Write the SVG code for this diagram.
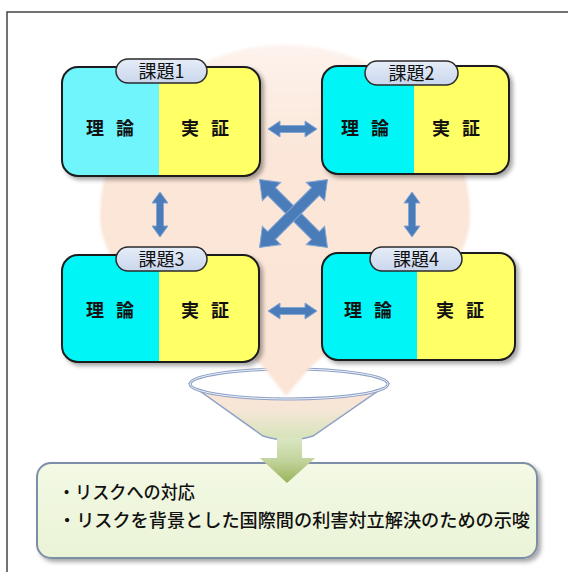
<svg xmlns="http://www.w3.org/2000/svg" width="568" height="572" viewBox="0 0 568 572">
<style>
.box{fill:none;stroke:#1c1c1c;stroke-width:2}
.tab{fill:url(#tabg);stroke:#2a2a2a;stroke-width:1.5}
.tabt{font-family:"Noto Sans CJK JP","Liberation Sans",sans-serif;font-size:18px;fill:#111;text-anchor:middle}
.lbl{font-family:"Noto Sans CJK JP","Liberation Sans",sans-serif;font-size:18px;font-weight:bold;fill:#111;letter-spacing:12px}
.arr{fill:#4a7cba;stroke:#82a5d2;stroke-width:1}
.body{font-family:"Noto Sans CJK JP","Liberation Sans",sans-serif;font-size:18px;font-weight:500;fill:#111}
</style>
<defs>
<filter id="sh" x="-10%" y="-10%" width="130%" height="130%">
<feDropShadow dx="3" dy="3" stdDeviation="2" flood-color="#000" flood-opacity="0.35"/>
</filter>
<filter id="soft" x="-5%" y="-5%" width="110%" height="110%">
<feGaussianBlur stdDeviation="1.5"/>
</filter>
<linearGradient id="pinkg" x1="0" y1="45" x2="0" y2="400" gradientUnits="userSpaceOnUse">
<stop offset="0" stop-color="#fdf3ed"/>
<stop offset="0.3" stop-color="#fbe6d9"/>
<stop offset="1" stop-color="#fbe4d5"/>
</linearGradient>
<linearGradient id="tabg" x1="0" y1="0" x2="0" y2="1">
<stop offset="0" stop-color="#e6edf8"/>
<stop offset="1" stop-color="#c9d6ec"/>
</linearGradient>
<linearGradient id="coneg" x1="0" y1="384" x2="0" y2="440" gradientUnits="userSpaceOnUse">
<stop offset="0" stop-color="#fbe4d6"/>
<stop offset="0.45" stop-color="#f6e6d6"/>
<stop offset="1" stop-color="#d5e3b9"/>
</linearGradient>
<linearGradient id="greeng" x1="0" y1="438" x2="0" y2="483" gradientUnits="userSpaceOnUse">
<stop offset="0" stop-color="#dbe6c4"/>
<stop offset="0.5" stop-color="#c2d49c"/>
<stop offset="1" stop-color="#98b45a"/>
</linearGradient>
<linearGradient id="resg" x1="0" y1="0" x2="0" y2="1">
<stop offset="0" stop-color="#f3f9e4"/>
<stop offset="1" stop-color="#eaf3d6"/>
</linearGradient>
<path id="dh" d="M-24.5,0 L-12.5,-8 L-12.5,-3.5 L12.5,-3.5 L12.5,-8 L24.5,0 L12.5,8 L12.5,3.5 L-12.5,3.5 L-12.5,8 Z"/>
<path id="dd" d="M-48,0 L-31,-13 L-31,-5.5 L31,-5.5 L31,-13 L48,0 L31,13 L31,5.5 L-31,5.5 L-31,13 Z"/>
</defs>

<rect x="0" y="0" width="568" height="572" fill="#ffffff"/>
<rect x="7" y="12" width="600" height="600" fill="none" stroke="#444" stroke-width="1.5"/>

<g id="funnel">
<path d="M190,384 L263,436 Q288,444 313,436 L388,384 Z" fill="url(#coneg)" stroke="#8ea1c6" stroke-width="1.5"/>
<ellipse cx="289" cy="384" rx="99" ry="15" fill="#ffffff" stroke="#8ea1c6" stroke-width="3"/>
<ellipse cx="289" cy="384" rx="99" ry="15" fill="none" stroke="#eef2fa" stroke-width="1"/>
</g>

<g id="background-drop">
<path d="M286,396 L265,369 C232,332 100,300 100,215 A185 170 0 0 1 470 215 C470 300 342 332 309 369 Z" fill="url(#pinkg)" filter="url(#soft)"/>
</g>

<g id="output-arrow">
<path d="M277,438 L302,438 L302,458 L315,458 L287,483 L260,458 L277,458 Z" fill="url(#greeng)"/>
</g>

<g id="connectors">
<use href="#dh" class="arr" transform="translate(292.5,129)"/>
<use href="#dh" class="arr" transform="translate(292.5,311)"/>
<use href="#dh" class="arr" transform="translate(160,214.5) rotate(90) scale(0.92,1)"/>
<use href="#dh" class="arr" transform="translate(412,214.5) rotate(90) scale(0.92,1)"/>
<use href="#dd" class="arr" transform="translate(293.5,213.5) rotate(45)"/>
<use href="#dd" class="arr" transform="translate(293.5,213.5) rotate(-45)"/>
</g>

<g id="task1">
<g filter="url(#sh)">
<rect x="62" y="67" width="198" height="109" rx="16" fill="#ffff66"/>
<path d="M78,67 H159 V176 H78 A16 16 0 0 1 62 160 V83 A16 16 0 0 1 78 67 Z" fill="#70f5fd"/>
<rect class="box" x="62" y="67" width="198" height="109" rx="16"/>
</g>
<rect class="tab" x="116" y="59" width="91" height="24" rx="12"/>
<text class="tabt" x="161.5" y="77.5">課題1</text>
<text class="lbl" x="86" y="135">理論</text>
<text class="lbl" x="181" y="135">実証</text>
</g>

<g id="task2">
<g filter="url(#sh)">
<rect x="322" y="66" width="187" height="108" rx="16" fill="#ffff66"/>
<path d="M338,66 H414 V174 H338 A16 16 0 0 1 322 158 V82 A16 16 0 0 1 338 66 Z" fill="#00f6f6"/>
<rect class="box" x="322" y="66" width="187" height="108" rx="16"/>
</g>
<rect class="tab" x="365" y="61" width="93" height="24" rx="12"/>
<text class="tabt" x="411.5" y="79.5">課題2</text>
<text class="lbl" x="341" y="135">理論</text>
<text class="lbl" x="432" y="135">実証</text>
</g>

<g id="task3">
<g filter="url(#sh)">
<rect x="62" y="255" width="197" height="107" rx="16" fill="#ffff66"/>
<path d="M78,255 H159 V362 H78 A16 16 0 0 1 62 346 V271 A16 16 0 0 1 78 255 Z" fill="#00f6f6"/>
<rect class="box" x="62" y="255" width="197" height="107" rx="16"/>
</g>
<rect class="tab" x="116" y="247" width="91" height="24" rx="12"/>
<text class="tabt" x="161.5" y="265.5">課題3</text>
<text class="lbl" x="86" y="317">理論</text>
<text class="lbl" x="181" y="317">実証</text>
</g>

<g id="task4">
<g filter="url(#sh)">
<rect x="322" y="253" width="193" height="107" rx="16" fill="#ffff66"/>
<path d="M338,253 H417 V360 H338 A16 16 0 0 1 322 344 V269 A16 16 0 0 1 338 253 Z" fill="#00f6f6"/>
<rect class="box" x="322" y="253" width="193" height="107" rx="16"/>
</g>
<rect class="tab" x="370" y="247" width="92" height="24" rx="12"/>
<text class="tabt" x="416" y="265.5">課題4</text>
<text class="lbl" x="344" y="317">理論</text>
<text class="lbl" x="436" y="317">実証</text>
</g>

<g id="result">
<rect x="37" y="463" width="500" height="95" rx="14" fill="url(#resg)" stroke="#7d8ea8" stroke-width="2" filter="url(#sh)"/>
<text class="body" x="58" y="499" textLength="137" lengthAdjust="spacingAndGlyphs">・リスクへの対応</text>
<text class="body" x="58" y="527" textLength="472" lengthAdjust="spacingAndGlyphs">・リスクを背景とした国際間の利害対立解決のための示唆</text>
</g>

<g id="output-arrow-head">
<path d="M260,458 L315,458 L287,483 Z" fill="url(#greeng)"/>
</g>
</svg>
